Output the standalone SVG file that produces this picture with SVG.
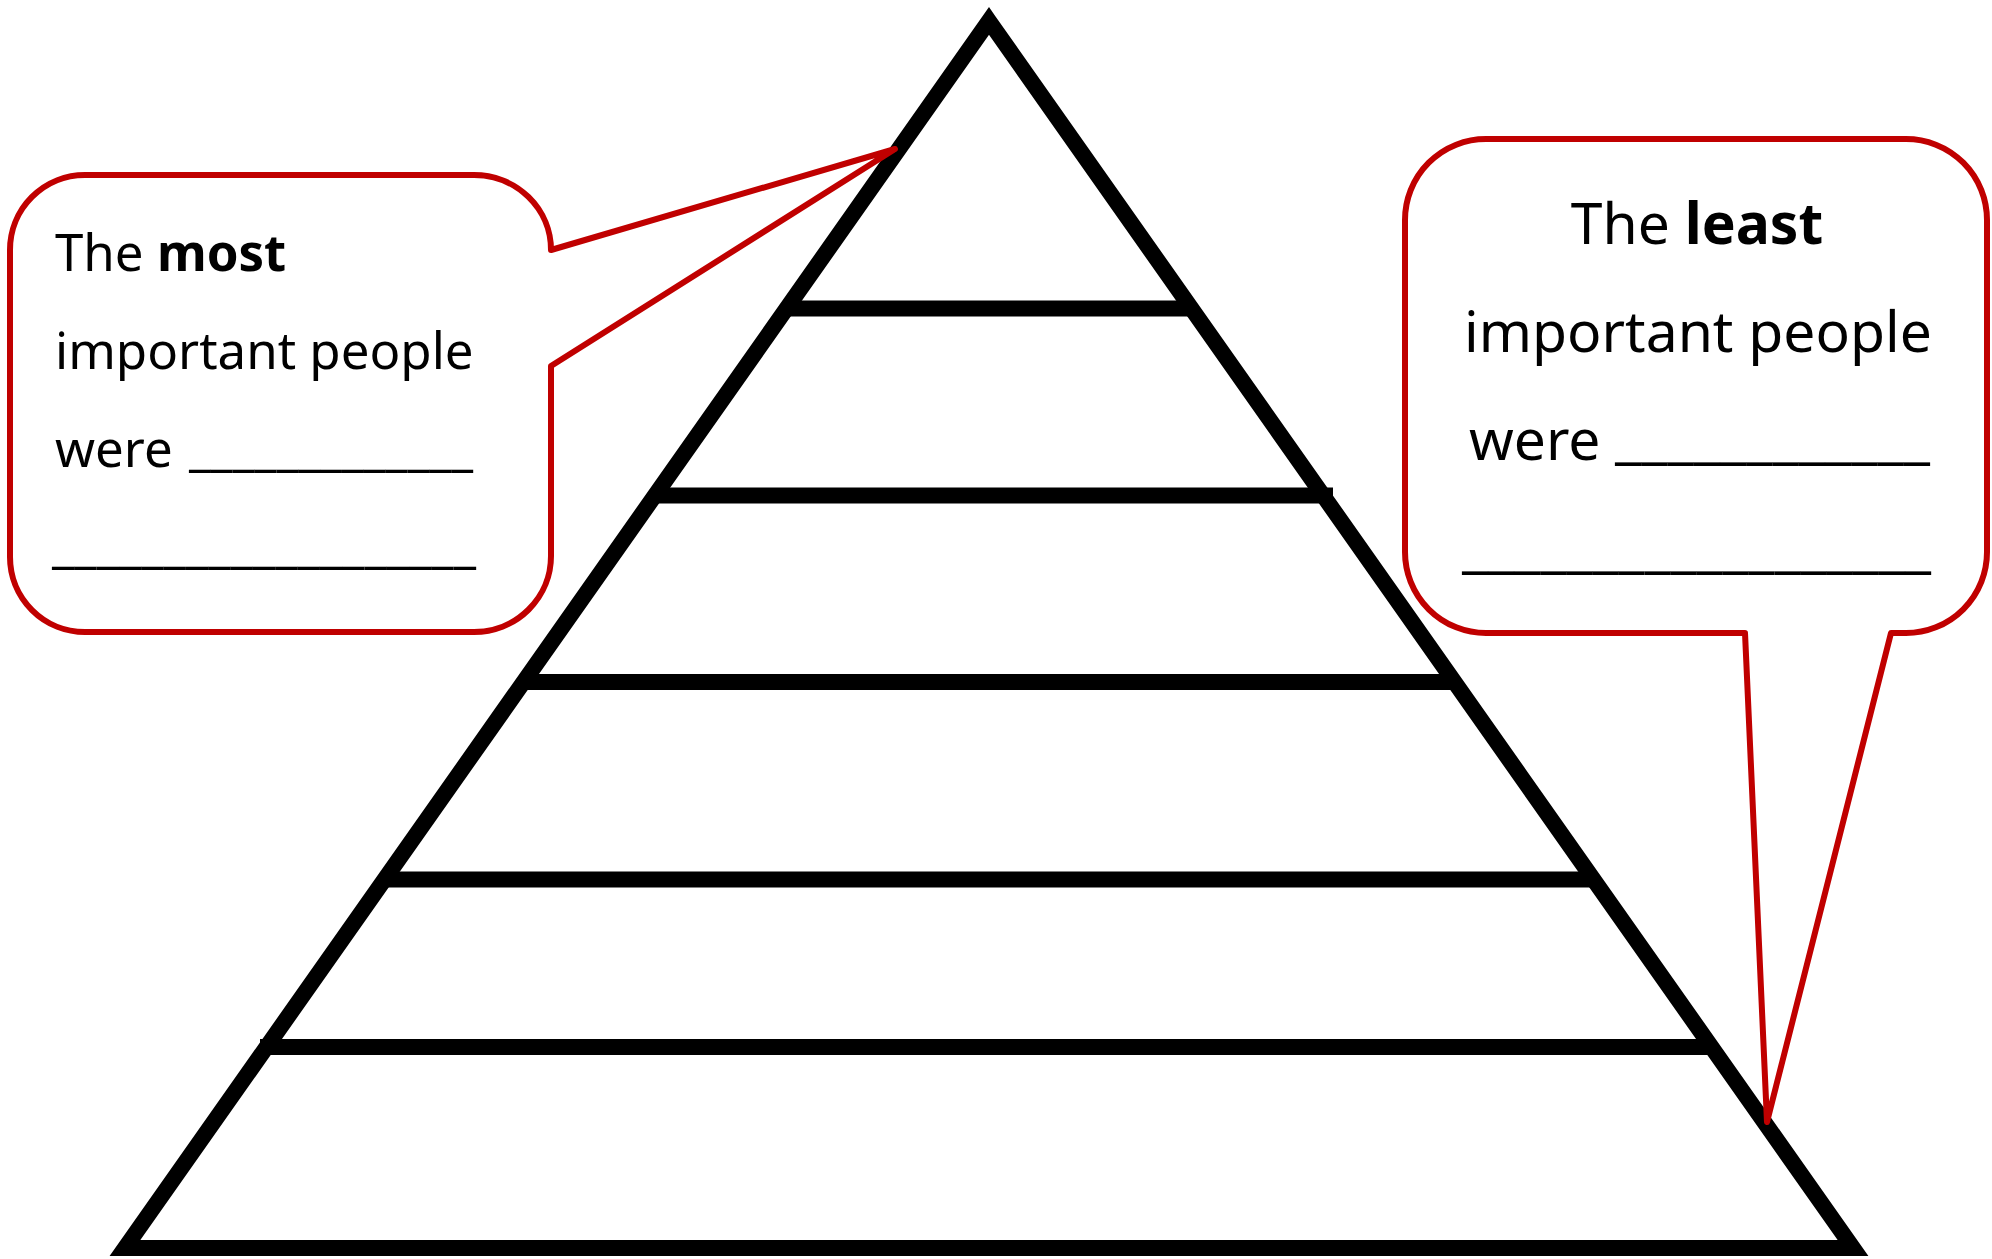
<svg xmlns="http://www.w3.org/2000/svg" width="1992" height="1259" viewBox="0 0 1992 1259">
<style>
.pyr{fill:none;stroke:#000;stroke-width:16;stroke-linejoin:miter;stroke-miterlimit:10}
.bar{stroke:#000;stroke-width:16;stroke-linecap:butt}
.callout{fill:#fff;stroke:#C00000;stroke-width:6;stroke-linejoin:round}
.t{font-family:"Noto Sans","DejaVu Sans",sans-serif;fill:#000}
.l{font-size:51px}
.r{font-size:57px}
.b{font-weight:bold}
</style>
<rect x="0" y="0" width="1992" height="1259" fill="#fff"/>
<g id="pyramid">
<polygon class="pyr" points="989,21 1853,1248 125,1248"/>
<line class="bar" x1="787" y1="308.5" x2="1191" y2="308.5"/>
<line class="bar" x1="655" y1="495.5" x2="1333" y2="495.5"/>
<line class="bar" x1="523" y1="682" x2="1455" y2="682"/>
<line class="bar" x1="385" y1="879.5" x2="1593" y2="879.5"/>
<line class="bar" x1="260" y1="1047" x2="1711" y2="1047"/>
</g>
<g id="callout-most">
<path class="callout" d="M85,175 H474 A77,75 0 0 1 551,250 L895,149 L551,366 V556 A77,76 0 0 1 474,632 H85 A75,75 0 0 1 10,557 V250 A75,75 0 0 1 85,175 Z"/>
<text class="t l" x="55" y="271">The <tspan class="b">most</tspan></text>
<text class="t l" x="55" y="369">important people</text>
<text class="t l" x="55" y="467">were</text>
<text class="t l" x="189" y="465" textLength="284" lengthAdjust="spacingAndGlyphs">_____________</text>
<text class="t l" x="52" y="562" textLength="424" lengthAdjust="spacingAndGlyphs">___________________</text>
</g>
<g id="callout-least">
<path class="callout" d="M1486,139 H1906 A81,81 0 0 1 1987,220 V552 A81,81 0 0 1 1906,633 H1891 L1767,1122 L1745,633 H1486 A81,81 0 0 1 1405,552 V220 A81,81 0 0 1 1486,139 Z"/>
<text class="t r" x="1697" y="244" text-anchor="middle">The <tspan class="b">least</tspan></text>
<text class="t r" x="1464" y="352">important people</text>
<text class="t r" x="1469" y="460">were</text>
<text class="t r" x="1615" y="457" textLength="315" lengthAdjust="spacingAndGlyphs">____________</text>
<text class="t r" x="1462" y="566" textLength="469" lengthAdjust="spacingAndGlyphs">__________________</text>
</g>
</svg>
